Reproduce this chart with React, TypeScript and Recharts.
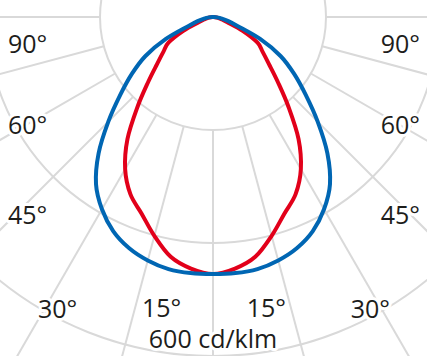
import { RadarChart, Radar, PolarGrid, PolarAngleAxis, PolarRadiusAxis } from 'recharts';

// gamma angle from nadir (deg), 0..180, curves are symmetric left/right
const gammas = [
  0, 5, 10, 15, 20, 25, 30, 35, 40, 45, 50, 55, 60, 65, 70, 75, 80, 85, 90,
  95, 100, 105, 110, 115, 120, 125, 130, 135, 140, 145, 150, 155, 160, 165, 170, 175, 180,
];
// cd/klm
const blueValues = [
  455, 455, 453, 446, 435, 418, 393, 361, 315, 262, 214, 175, 138, 92, 46, 28, 16, 7, 0,
  0, 0, 0, 0, 0, 0, 0, 0, 0, 0, 0, 0, 0, 0, 0, 0, 0, 0,
];
const redValues = [
  455, 447, 431, 401, 370, 346, 311, 264, 208, 162, 129, 107, 91, 58, 27, 16, 9, 4, 0,
  0, 0, 0, 0, 0, 0, 0, 0, 0, 0, 0, 0, 0, 0, 0, 0, 0, 0,
];
const ringTicks = [200, 400, 600];
const spokeGammas = [0, 15, 30, 45, 60, 75, 90];
const angleLabels = ['90°', '60°', '45°', '30°', '15°'];
const unitLabel = '600 cd/klm';

const W = 427;
const H = 356;
const CX = 213;
const CY = 17;
const R = 339;
const GRID = '#d9d9d9';

// full 0..355 circle, right half mirrored on left
const data = Array.from({ length: 72 }, (_, i) => {
  const angle = i * 5;
  const g = angle <= 180 ? angle : 360 - angle;
  const idx = gammas.indexOf(g);
  return { angle, blue: blueValues[idx], red: redValues[idx] };
});

const spokeAngles = spokeGammas.flatMap(g => (g === 0 ? [-90] : [-90 + g, -90 - g]));

// label spots: [left x, baseline y]; right side is mirrored
const labelPos: [number, number][] = [
  [8, 53], [8, 134], [8, 224], [38, 318], [142, 317],
];

const labelStyle = {
  fontFamily: '"Open Sans", sans-serif',
  fontSize: 25,
  fill: '#1d1d1b',
  stroke: '#fff',
  strokeWidth: 6,
  paintOrder: 'stroke' as const,
  strokeLinejoin: 'round' as const,
};

type Pt = { x: number; y: number };

// closed catmull-rom through the radar points the chart computed
const SmoothLoop = (props: { points?: Pt[]; stroke?: string; strokeWidth?: number }) => {
  const pts = props.points || [];
  if (pts.length < 3) return null;
  const n = pts.length;
  let d = `M${pts[0].x},${pts[0].y}`;
  for (let i = 0; i < n; i++) {
    const p0 = pts[(i - 1 + n) % n];
    const p1 = pts[i];
    const p2 = pts[(i + 1) % n];
    const p3 = pts[(i + 2) % n];
    const c1x = p1.x + (p2.x - p0.x) / 6;
    const c1y = p1.y + (p2.y - p0.y) / 6;
    const c2x = p2.x - (p3.x - p1.x) / 6;
    const c2y = p2.y - (p3.y - p1.y) / 6;
    d += ` C${c1x},${c1y} ${c2x},${c2y} ${p2.x},${p2.y}`;
  }
  return (
    <path d={d + ' Z'} fill="none" stroke={props.stroke} strokeWidth={props.strokeWidth}
      strokeLinejoin="round" strokeLinecap="round" />
  );
};

export default function App() {
  const noMargin = { top: 0, right: 0, bottom: 0, left: 0 };
  return (
    <div style={{ position: 'absolute', left: 0, top: 0, width: W, height: H, overflow: 'hidden', background: '#fff' }}>
      <div style={{ position: 'absolute', left: 0, top: 0 }}>
        <RadarChart width={W} height={H} data={data} cx={CX} cy={CY} innerRadius={113} outerRadius={460} margin={noMargin}>
          <PolarGrid gridType="circle" polarAngles={spokeAngles} polarRadius={[]} stroke={GRID} strokeWidth={2} />
        </RadarChart>
      </div>
      <div style={{ position: 'absolute', left: 0, top: 0 }}>
        <RadarChart
          width={W}
          height={H}
          data={data}
          cx={CX}
          cy={CY}
          innerRadius={0}
          outerRadius={R}
          startAngle={-90}
          endAngle={270}
          margin={noMargin}
        >
          <PolarGrid gridType="circle" radialLines={false} stroke={GRID} strokeWidth={2} />
          <PolarAngleAxis type="number" dataKey="angle" domain={[0, 360]} tick={false} axisLine={false} tickLine={false} />
          <PolarRadiusAxis domain={[0, 600]} ticks={ringTicks} tick={false} axisLine={false} tickLine={false} />
          <Radar dataKey="red" stroke="#e2001a" strokeWidth={4} fill="none" dot={false}
            isAnimationActive={false} shape={(p: any) => <SmoothLoop {...p} />} />
          <Radar dataKey="blue" stroke="#0066b3" strokeWidth={4} fill="none" dot={false}
            isAnimationActive={false} shape={(p: any) => <SmoothLoop {...p} />} />
        </RadarChart>
      </div>
      <svg width={W} height={H} style={{ position: 'absolute', left: 0, top: 0 }}>
        {angleLabels.map((t, i) => (
          <g key={t}>
            <text x={labelPos[i][0]} y={labelPos[i][1]} style={labelStyle}>{t}</text>
            <text x={W - labelPos[i][0] + 1} y={labelPos[i][1]} textAnchor="end" style={labelStyle}>{t}</text>
          </g>
        ))}
        <text x={213} y={348} textAnchor="middle" style={labelStyle}>{unitLabel}</text>
      </svg>
    </div>
  );
}
